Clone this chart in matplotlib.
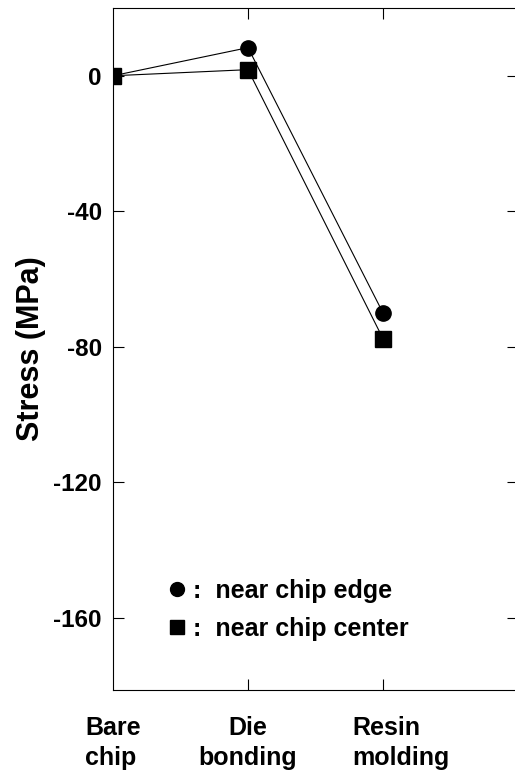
import matplotlib.pyplot as plt
from matplotlib.lines import Line2D
from matplotlib.transforms import ScaledTranslation

plt.rcParams['font.family'] = ['Liberation Sans', 'DejaVu Sans']
plt.rcParams['font.weight'] = 'bold'

# process steps and measured stress (MPa)
steps = ['Bare\nchip', 'Die\nbonding', 'Resin\nmolding']
edge_stress = [0, 8.3, -70]
center_stress = [0, 1.8, -77.6]
yticks = [0, -40, -80, -120, -160]

fig = plt.figure(figsize=(5.15, 7.76), dpi=100)
ax = fig.add_axes([113/515, 86/776, 405/515, 682/776])

pos = list(range(len(steps)))
ax.plot(pos, edge_stress, color='black', lw=0.8, marker='o', ms=11, zorder=3)
ax.plot(pos, center_stress, color='black', lw=0.8, marker='s', ms=11.5, zorder=3)

ax.set_xlim(0, 3)
ax.set_ylim(-181.3, 20)
ax.set_yticks(yticks)
ax.set_yticklabels([str(v) for v in yticks], fontsize=17.5, fontweight='bold')
ax.set_xticks(pos)
ax.set_xticklabels(steps, fontsize=18, fontweight='bold', linespacing=1.3)
ax.tick_params(axis='y', direction='in', length=8, width=0.8, left=True, right=True, pad=8)
ax.tick_params(axis='x', direction='in', length=8, width=0.8, top=True, bottom=True, pad=19)
# no tick marks at the left end of the x axis
first = ax.xaxis.get_major_ticks()[0]
first.tick1line.set_visible(False)
first.tick2line.set_visible(False)
for s in ax.spines.values():
    s.set_linewidth(0.8)

# the labels are set a bit like hand-placed text
labs = ax.get_xticklabels()
labs[0].set_multialignment('left')
labs[1].set_multialignment('center')
labs[2].set_multialignment('left')
labs[2].set_transform(labs[2].get_transform() + ScaledTranslation(0.18, 0, fig.dpi_scale_trans))

ax.set_ylabel('Stress (MPa)', fontsize=22, fontweight='bold', labelpad=5)

handles = [Line2D([], [], color='black', marker='o', ls='none', ms=10),
           Line2D([], [], color='black', marker='s', ls='none', ms=10)]
ax.legend(handles, [':  near chip edge', ':  near chip center'], loc='center left',
          bbox_to_anchor=(0.127, 0.118), frameon=False, borderpad=0, borderaxespad=0,
          handlelength=1.0, handletextpad=0.14, labelspacing=0.56,
          prop={'size': 18, 'weight': 'bold'})

fig.savefig('out.png', dpi=100)
